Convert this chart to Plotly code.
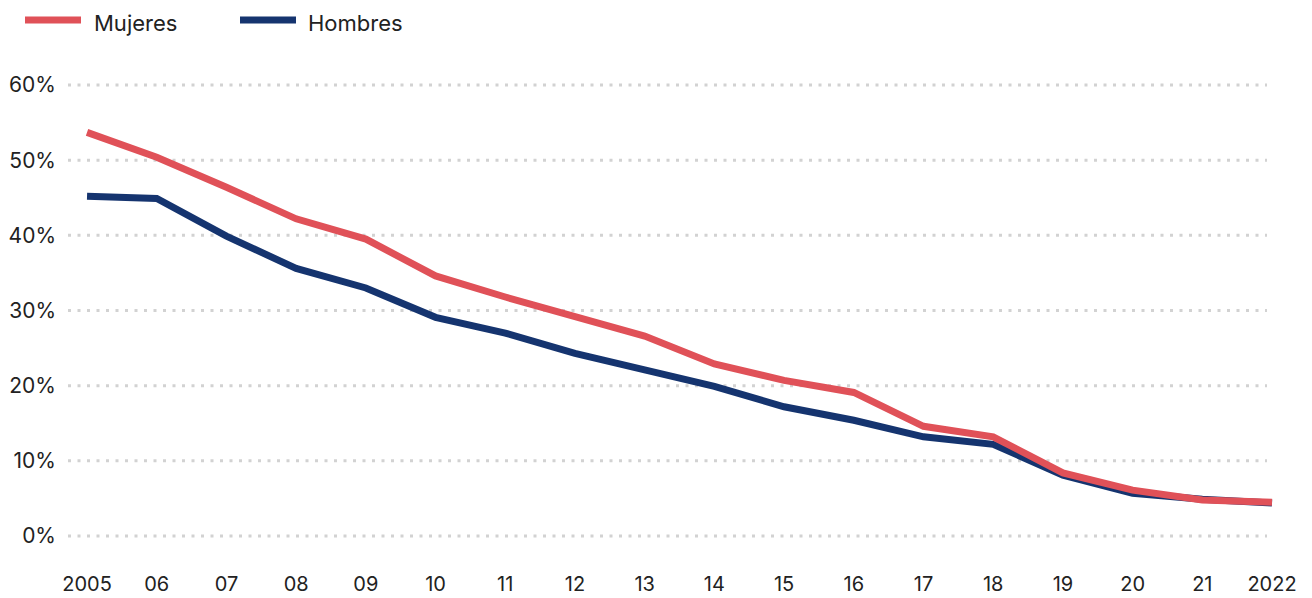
import plotly.graph_objects as go

years = list(range(2005, 2023))
tick_labels = ["2005", "06", "07", "08", "09", "10", "11", "12", "13", "14",
               "15", "16", "17", "18", "19", "20", "21", "2022"]
mujeres = [53.7, 50.4, 46.4, 42.2, 39.5, 34.6, 31.8, 29.1, 26.6, 22.9,
           20.7, 19.1, 14.6, 13.2, 8.4, 6.1, 4.8, 4.5]
hombres = [45.2, 44.9, 39.9, 35.6, 33.0, 29.1, 27.0, 24.3, 22.1, 19.9,
           17.2, 15.4, 13.2, 12.2, 8.1, 5.7, 4.9, 4.4]
y_ticks = [0, 10, 20, 30, 40, 50, 60]
y_tick_text = ["0%", "10%", "20%", "30%", "40%", "50%", "60%"]
series_names = ["Mujeres", "Hombres"]

RED = "#E05158"
NAVY = "#15346F"
FONT = "Inter"
OFF = 8  # default page body margin
W, H = 1312 - OFF, 598 - OFF
L = 68 - OFF
R = W - (1290 - OFF)
T = 60 - OFF
B = H - (560 - OFF)
PW = W - L - R
PH = H - T - B

fig = go.Figure()
fig.add_trace(go.Scatter(x=years, y=hombres, name=series_names[1], mode="lines",
                         line=dict(color=NAVY, width=7), showlegend=False))
fig.add_trace(go.Scatter(x=years, y=mujeres, name=series_names[0], mode="lines",
                         line=dict(color=RED, width=7), showlegend=False))


def px_x(x):
    return (x - OFF - L) / PW


def px_y(y):
    return (H - B - (y - OFF)) / PH


# dotted gridlines
for v in y_ticks:
    fig.add_shape(type="line", xref="paper", yref="y", x0=0, x1=px_x(1267), y0=v, y1=v,
                  line=dict(color="#D2D2D2", width=3, dash="3px,6.5px"), layer="below")

# legend drawn manually (long line symbols)
legend_items = [(series_names[0], RED, 22, 84, 96), (series_names[1], NAVY, 237, 299, 310)]
for name, col, x0, x1, tx in legend_items:
    fig.add_shape(type="line", xref="paper", yref="paper",
                  x0=px_x(x0 + 3), x1=px_x(x1 - 3), y0=px_y(20), y1=px_y(20),
                  line=dict(color=col, width=7))
    fig.add_annotation(xref="paper", yref="paper", x=px_x(tx - 3), y=px_y(23),
                       text=name, showarrow=False, xanchor="left", yanchor="middle",
                       borderpad=0,
                       font=dict(size=22, color="#222222", family=FONT))

fig.update_layout(
    width=W, height=H,
    margin=dict(l=L, r=R, t=T, b=B, autoexpand=False),
    paper_bgcolor="white", plot_bgcolor="white",
    font=dict(family=FONT, size=21, color="#222222"),
    showlegend=False,
    xaxis=dict(range=[2004.727, 2022.258], tickmode="array", tickvals=years,
               ticktext=tick_labels, showgrid=False, zeroline=False, showline=False,
               ticks="", ticklabelstandoff=10, fixedrange=True,
               tickfont=dict(size=20)),
    yaxis=dict(range=[-3.19, 63.33], tickmode="array", tickvals=y_ticks,
               ticktext=y_tick_text, showgrid=False, zeroline=False, showline=False,
               ticks="", ticklabelstandoff=11, fixedrange=True),
)

fig.write_html("out.html")
